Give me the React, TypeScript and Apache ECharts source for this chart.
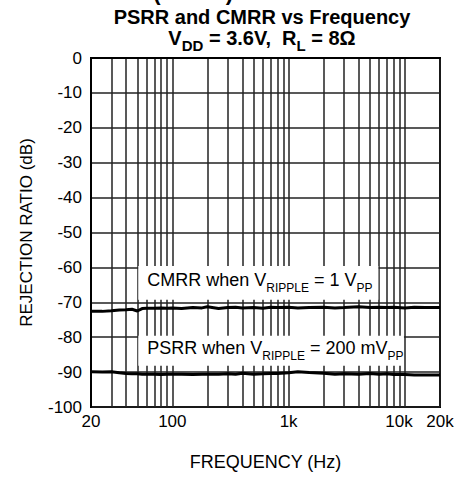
import React, { useEffect, useRef } from "react";
import * as echarts from "echarts";

const FONT = "'Liberation Sans', Arial, Helvetica, sans-serif";

const freqs = [20, 25, 30, 35, 40, 45, 50, 55, 60, 70, 80, 90, 100, 120, 150, 180, 200, 250, 300, 350, 400, 500, 600, 700, 800, 1000, 1200, 1500, 2000, 2500, 3000, 4000, 5000, 6000, 7000, 8000, 10000, 12000, 15000, 20000];
const cmrr = [-72.6, -72.6, -72.4, -72.2, -72.1, -72.0, -72.5, -71.8, -71.7, -71.7, -71.6, -71.7, -71.6, -71.8, -71.5, -71.6, -71.3, -71.8, -71.5, -71.4, -71.6, -71.5, -71.7, -71.4, -71.5, -71.4, -71.6, -71.5, -71.4, -71.6, -71.5, -71.3, -71.5, -71.4, -71.5, -71.4, -71.6, -71.4, -71.5, -71.5];
const psrr = [-89.9, -90.0, -89.9, -90.2, -90.4, -90.5, -90.5, -90.6, -90.6, -90.6, -90.7, -90.6, -90.6, -90.6, -90.7, -90.6, -90.6, -90.6, -90.5, -90.6, -90.3, -90.6, -90.5, -90.4, -90.4, -90.2, -89.9, -90.1, -90.3, -90.6, -90.5, -90.6, -90.4, -90.6, -90.5, -90.7, -90.7, -90.8, -90.8, -90.8];

const xGridValues = [20, 30, 40, 50, 60, 70, 80, 90, 100, 200, 300, 400, 500, 600, 700, 800, 900, 1000, 2000, 3000, 4000, 5000, 6000, 7000, 8000, 9000, 10000, 20000];
const xLabelValues = [20, 100, 1000, 10000, 20000];
const xLabelText: Record<number, string> = { 20: "20", 100: "100", 1000: "1k", 10000: "10k", 20000: "20k" };

const cmrrBox = { x: [51, 5900], y: [-59.6, -69.3], text: "CMRR when V{s|RIPPLE} = 1 V{s|PP}" };
const psrrBox = { x: [51, 9800], y: [-79.6, -88.2], text: "PSRR when V{s|RIPPLE} = 200 mV{s|PP}" };

export default function App() {
  const ref = useRef<HTMLDivElement>(null);
  useEffect(() => {
    if (!ref.current) return;
    const chart = echarts.init(ref.current, null, { renderer: "svg" });
    const rich = {
      s: { fontSize: 12, fontFamily: FONT, color: "#000", verticalAlign: "bottom", lineHeight: 14, padding: [0, 0, -5, 0] },
    };
    const boxLabel = (t: string) => ({
      show: true,
      position: "insideLeft",
      distance: 9,
      offset: [0, -3],
      formatter: t,
      fontSize: 18,
      fontFamily: FONT,
      color: "#000",
      rich,
    });
    chart.setOption({
      animation: false,
      backgroundColor: "#fff",
      title: [
        {
          text: "PSRR and CMRR vs Frequency",
          left: 262,
          top: 7,
          padding: 0,
          textAlign: "center",
          textStyle: { fontSize: 20, lineHeight: 20, fontWeight: "bold", fontFamily: FONT, color: "#000" },
        },
        {
          text: "V{b|DD} = 3.6V,  R{b|L} = 8Ω",
          left: 262,
          top: 28,
          padding: 0,
          textAlign: "center",
          textStyle: {
            fontSize: 20,
            lineHeight: 20,
            fontWeight: "bold",
            fontFamily: FONT,
            color: "#000",
            rich: {
              b: { fontSize: 15, fontWeight: "bold", fontFamily: FONT, color: "#000", verticalAlign: "bottom", lineHeight: 14, padding: [0, 0, -5, 0] },
            },
          },
        },
      ],
      graphic: [
        {
          type: "text",
          right: 225,
          top: -19,
          style: { text: "Typical Performance Characteristics (cont'd)", font: `bold 22px ${FONT}`, fill: "#000" },
        },
      ],
      grid: { left: 91, right: 18, top: 58, bottom: 71, show: true, borderColor: "#000", borderWidth: 2, backgroundColor: "#fff" },
      xAxis: {
        type: "log",
        logBase: 10,
        min: 20,
        max: 20000,
        name: "FREQUENCY (Hz)",
        nameLocation: "middle",
        nameGap: 46,
        nameTextStyle: { fontSize: 18, fontFamily: FONT, color: "#000" },
        axisLine: { show: true, lineStyle: { color: "#000", width: 2 } },
        axisTick: { show: false, customValues: xGridValues },
        axisLabel: {
          customValues: xLabelValues,
          fontSize: 17,
          fontFamily: FONT,
          color: "#000",
          margin: 6,
          formatter: (v: number) => (v === 10000 ? "{l|10k}" : xLabelText[v] ?? String(v)),
          rich: { l: { fontSize: 17, fontFamily: FONT, color: "#000", padding: [0, 12, 0, 0] } },
        },
        splitLine: { show: true, lineStyle: { color: "#222", width: 1.5 } },
      },
      yAxis: {
        type: "value",
        min: -100,
        max: 0,
        interval: 10,
        name: "REJECTION RATIO (dB)",
        nameLocation: "middle",
        nameGap: 56,
        nameTextStyle: { fontSize: 17, fontFamily: FONT, color: "#000" },
        axisLine: { show: true, lineStyle: { color: "#000", width: 2 } },
        axisTick: { show: false },
        axisLabel: { fontSize: 17, fontFamily: FONT, color: "#000", margin: 9 },
        splitLine: { show: true, lineStyle: { color: "#222", width: 1.5 } },
      },
      series: [
        {
          type: "line",
          name: "CMRR",
          data: freqs.map((f, i) => [f, cmrr[i]]),
          showSymbol: false,
          lineStyle: { color: "#000", width: 3 },
          itemStyle: { color: "#000" },
          markArea: {
            silent: true,
            itemStyle: { color: "#fff" },
            data: [
              [
                { xAxis: cmrrBox.x[0], yAxis: cmrrBox.y[0], label: boxLabel(cmrrBox.text) },
                { xAxis: cmrrBox.x[1], yAxis: cmrrBox.y[1] },
              ],
              [
                { xAxis: psrrBox.x[0], yAxis: psrrBox.y[0], label: boxLabel(psrrBox.text) },
                { xAxis: psrrBox.x[1], yAxis: psrrBox.y[1] },
              ],
            ],
          },
        },
        {
          type: "line",
          name: "PSRR",
          data: freqs.map((f, i) => [f, psrr[i]]),
          showSymbol: false,
          lineStyle: { color: "#000", width: 3 },
          itemStyle: { color: "#000" },
        },
      ],
    });
    return () => chart.dispose();
  }, []);
  return <div ref={ref} style={{ position: "fixed", left: 0, top: 0, width: 458, height: 478 }} />;
}
